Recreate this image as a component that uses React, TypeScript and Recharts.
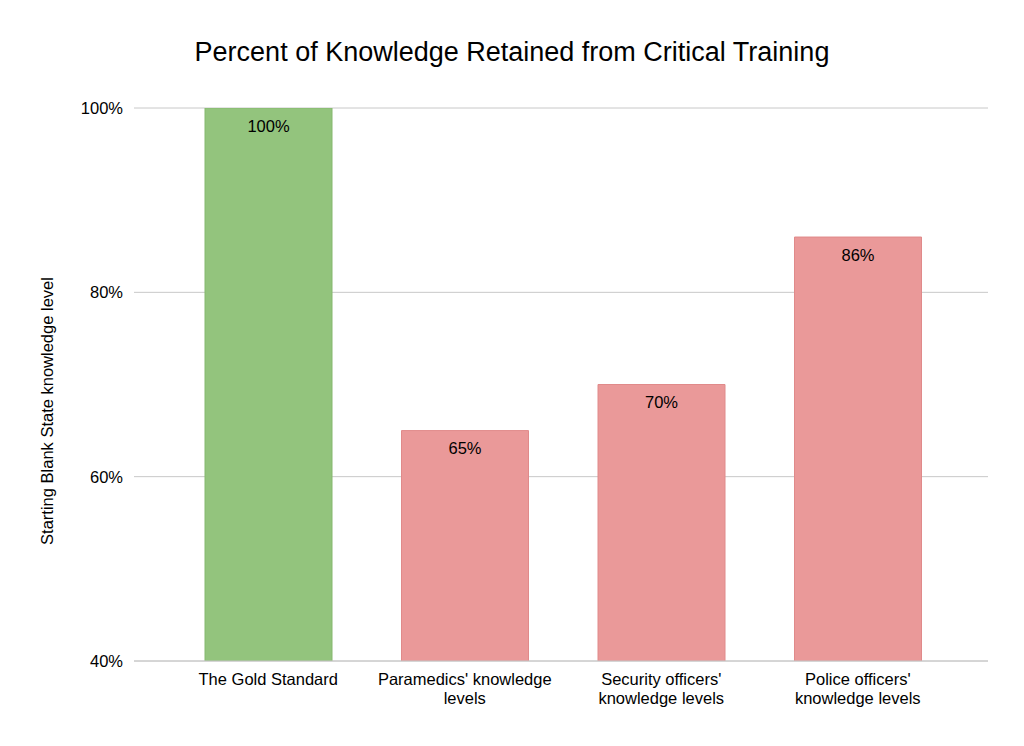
import { BarChart, Bar, XAxis, YAxis, CartesianGrid, LabelList, Cell, Text } from 'recharts';

const categories = [
  'The Gold Standard',
  "Paramedics' knowledge\nlevels",
  "Security officers'\nknowledge levels",
  "Police officers'\nknowledge levels",
];
const retained = [100, 65, 70, 86];
const yTicks = [40, 60, 80, 100];

const FONT = '"Liberation Sans", Arial, sans-serif';
const FS = 16.5;
const fills = ['#93c47d', '#ea9999', '#ea9999', '#ea9999'];
const strokes = ['#85b86f', '#e08a8a', '#e08a8a', '#e08a8a'];

const data = categories.map((name, i) => ({ name, value: retained[i] }));

function CategoryTick({ x, y, payload }: any) {
  const lines = String(payload.value).split('\n');
  return (
    <g>
      {lines.map((l, i) => (
        <text
          key={i}
          x={x}
          y={y + 16 + i * 19}
          textAnchor="middle"
          fontSize={FS}
          fontFamily={FONT}
          fill="#000"
        >
          {l}
        </text>
      ))}
    </g>
  );
}

function PercentTick({ x, y, payload }: any) {
  return (
    <text x={x} y={y + 6} textAnchor="end" fontSize={FS} fontFamily={FONT} fill="#000">
      {payload.value}%
    </text>
  );
}

export default function App() {
  return (
    <div style={{ position: 'relative', width: 1008, height: 730, background: '#fff' }}>
      <div
        style={{
          position: 'absolute',
          top: 29,
          left: 0,
          width: 1008,
          textAlign: 'center',
          fontFamily: FONT,
          fontSize: 27,
          color: '#000',
        }}
      >
        Percent of Knowledge Retained from Critical Training
      </div>
      <svg style={{ position: 'absolute', left: 0, top: 0 }} width={100} height={730}>
        <Text
          x={39}
          y={403}
          angle={-90}
          textAnchor="middle"
          verticalAnchor="middle"
          fontSize={FS}
          fontFamily={FONT}
          fill="#000"
        >
          Starting Blank State knowledge level
        </Text>
      </svg>
      <BarChart
        width={1008}
        height={730}
        data={data}
        margin={{ top: 100, right: 28, bottom: 47, left: 0 }}
        barCategoryGap={35}
      >
        <CartesianGrid vertical={false} stroke="#c8c8c8" />
        <XAxis
          dataKey="name"
          axisLine={{ stroke: '#c8c8c8' }}
          tickLine={false}
          tick={<CategoryTick />}
          interval={0}
          height={30}
          padding={{ left: 36, right: 32 }}
        />
        <YAxis
          domain={[40, 100]}
          ticks={yTicks}
          width={126}
          axisLine={false}
          tickLine={false}
          tick={<PercentTick />}
          tickMargin={5}
          allowDataOverflow
        />
        <Bar dataKey="value" isAnimationActive={false}>
          {data.map((_, i) => (
            <Cell key={i} fill={fills[i]} stroke={strokes[i]} strokeWidth={1} />
          ))}
          <LabelList
            dataKey="value"
            position="insideTop"
            offset={12}
            formatter={(v: any) => `${v}%`}
            style={{ fontSize: FS, fontFamily: FONT, fill: '#000' }}
          />
        </Bar>
      </BarChart>
    </div>
  );
}
